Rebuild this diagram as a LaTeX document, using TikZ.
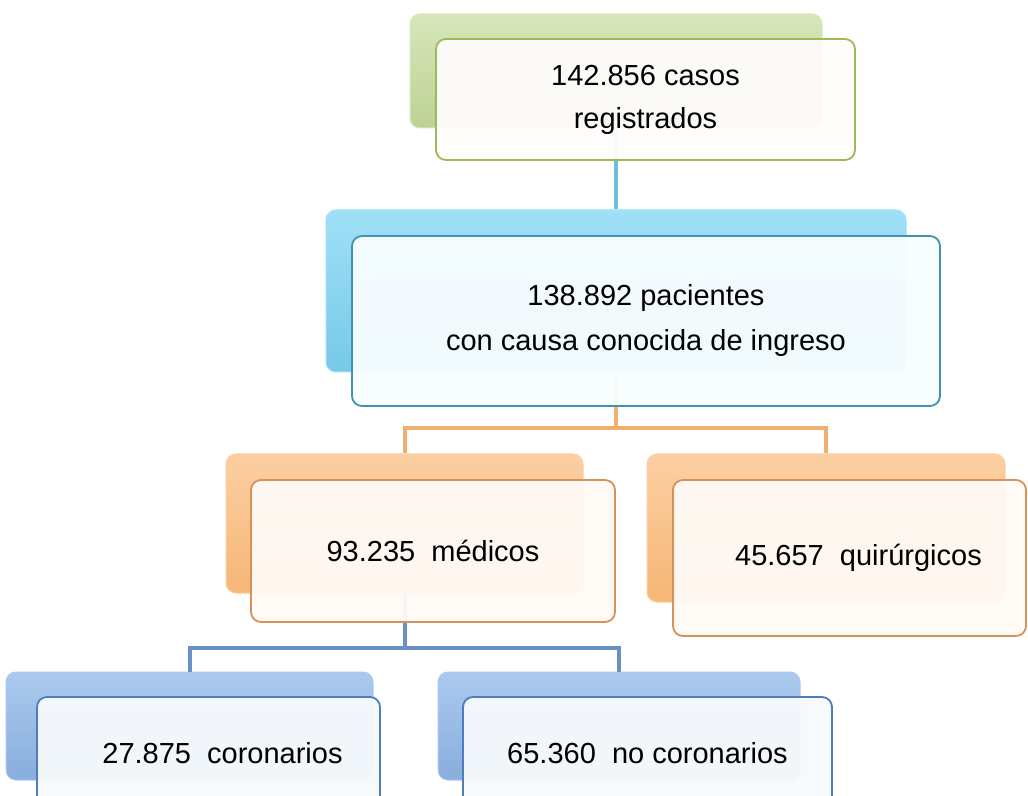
\documentclass[tikz,border=0pt]{standalone}
\usepackage{fontspec}
\setmainfont{Liberation Sans}
\usepackage{tikz}
\usetikzlibrary{positioning}
\usepackage{xcolor}

\definecolor{verdeA}{HTML}{D8E6BB}
\definecolor{verdeB}{HTML}{BDD293}
\definecolor{verdeL}{HTML}{9BBB59}
\definecolor{celesteA}{HTML}{A0E0F7}
\definecolor{celesteB}{HTML}{76C9E8}
\definecolor{celesteL}{HTML}{3F94AE}
\definecolor{naranjaA}{HTML}{FCCFA2}
\definecolor{naranjaB}{HTML}{F6B676}
\definecolor{naranjaL}{HTML}{D7925A}
\definecolor{azulA}{HTML}{ABC9EE}
\definecolor{azulB}{HTML}{88AEDD}
\definecolor{azulL}{HTML}{4F7DB9}

\tikzset{
  caja/.style 2 args={minimum width=#1*0.5pt, minimum height=#2*0.5pt, inner sep=0pt},
  fondo/.style 2 args={rounded corners=5pt, top color=#1, bottom color=#2, draw=#1, line width=0.5pt},
  frente/.style 2 args={rounded corners=5pt, draw=#1, line width=0.9pt, fill=#2, fill opacity=0.95, text opacity=1,
    align=center, font=\fontsize{14.5}{21.5}\selectfont},
  enlace/.style={draw=#1, line width=2pt}
}

\begin{document}
\begin{tikzpicture}[x=0.5pt, y=-0.5pt]
  \useasboundingbox (0,0) rectangle (1028,796);

  % cajas de fondo
  \node[fondo={verdeA}{verdeB}, caja={412}{114}] (fondo1) at (616,71) {};
  \node[fondo={celesteA}{celesteB}, caja={580}{162}] (fondo2) at (616,291) {};
  \node[fondo={naranjaA}{naranjaB}, caja={357}{139}] (fondo3) at (404.5,523.5) {};
  \node[fondo={naranjaA}{naranjaB}, caja={358}{148}] (fondo4) at (826,528) {};
  \node[fondo={azulA}{azulB}, caja={367}{108}] (fondo5) at (189.5,726) {};
  \node[fondo={azulA}{azulB}, caja={362}{108}] (fondo6) at (619,726) {};

  % conectores
  \draw[enlace=celesteB!80!celesteL] (fondo1.south) -- (fondo2.north);
  \draw[enlace=naranjaB!80!naranjaL] (fondo2.south) -- ++(0,56) -| (fondo3.north);
  \draw[enlace=naranjaB!80!naranjaL] (fondo2.south) -- ++(0,56) -| (fondo4.north);
  \draw[enlace=azulL!85!white] (fondo3.south) -- ++(0,54) -| (fondo5.north);
  \draw[enlace=azulL!85!white] (fondo3.south) -- ++(0,54) -| (fondo6.north);

  % cajas de texto
  \node[frente={verdeL}{white!96!pink}, caja={419}{121}] (casos) at (645.5,99.5)
    {142.856 casos\\registrados};
  \node[frente={celesteL}{celesteA!7!white}, caja={588}{170}] (pacientes) at (646,321)
    {138.892 pacientes\\[1pt]con causa conocida de ingreso};
  \node[frente={naranjaL}{naranjaA!10!white}, caja={364}{142}] (medicos) at (433,551)
    {93.235~ médicos};
  \node[frente={naranjaL}{naranjaA!10!white}, caja={353}{156}] (quirurgicos) at (849.5,558)
    {\hspace*{9pt}45.657~ quirúrgicos};
  \node[frente={azulL}{azulA!9!white}, caja={343}{113}] (coronarios) at (208.5,753.5)
    {\hspace*{14pt}27.875~ coronarios};
  \node[frente={azulL}{azulA!9!white}, caja={369}{113}] (nocoronarios) at (647.5,753.5)
    {65.360~ no coronarios};
\end{tikzpicture}
\end{document}
